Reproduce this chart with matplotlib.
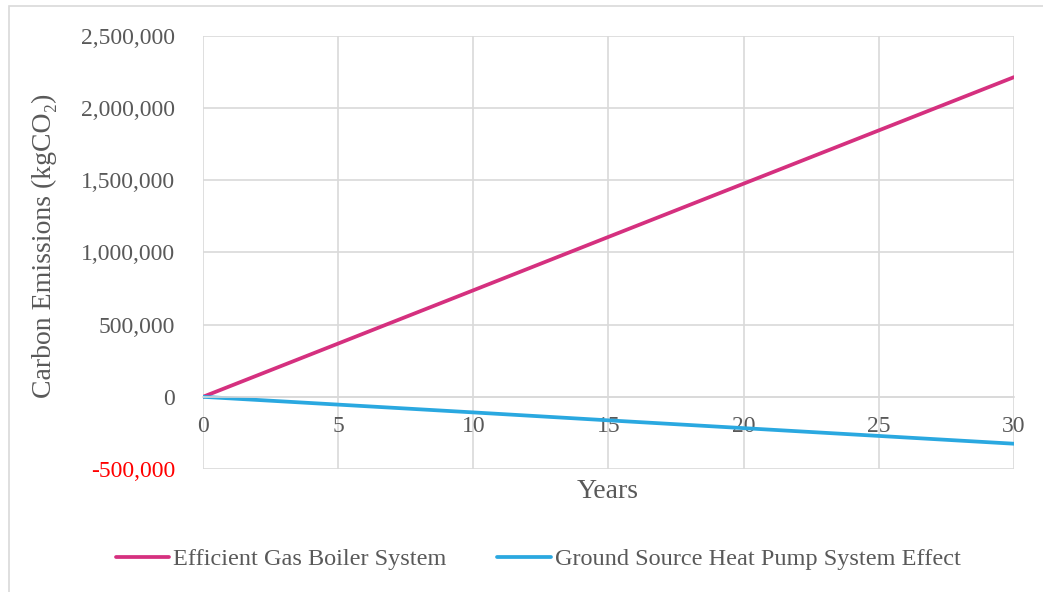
import matplotlib.pyplot as plt
from matplotlib.patches import Rectangle
from matplotlib.ticker import FuncFormatter

# values (every 5 years)
years = [0, 5, 10, 15, 20, 25, 30]
gas_boiler = [0, 369000, 738000, 1108000, 1477000, 1846000, 2215000]
gshp_effect = [0, -54000, -108000, -163000, -217000, -271000, -325000]

labels = ['Efficient Gas Boiler System', 'Ground Source Heat Pump System Effect']
y_ticks = [-500000, 0, 500000, 1000000, 1500000, 2000000, 2500000]
x_ticks = [0, 5, 10, 15, 20, 25, 30]

plt.rcParams['font.family'] = ['Liberation Serif', 'DejaVu Serif']
txt = '#595959'
grid = '#d9d9d9'

fig = plt.figure(figsize=(10.43, 5.92), dpi=100)
ax = fig.add_axes([0.1946, 0.2078, 0.7776, 0.7314])

# outer chart border
fig.patches.append(Rectangle((0.0086, -0.01), 1.0, 0.9999, transform=fig.transFigure,
                             fill=False, edgecolor=grid, linewidth=1.2))

ax.plot(years, gas_boiler, color='#d5307f', linewidth=2.7, label=labels[0], solid_capstyle='round')
ax.plot(years, gshp_effect, color='#2aa8e0', linewidth=2.7, label=labels[1], solid_capstyle='round')

ax.set_xlim(0, 30)
ax.set_ylim(-500000, 2500000)
ax.set_xticks(x_ticks)
ax.set_yticks(y_ticks)
ax.yaxis.set_major_formatter(FuncFormatter(lambda v, p: f'{int(v):,}'))

ax.grid(True, color=grid, linewidth=1.2)
ax.set_axisbelow(True)
for s in ['left', 'right', 'top']:
    ax.spines[s].set_visible(False)
ax.spines['bottom'].set_position(('data', 0))
ax.spines['bottom'].set_color(grid)
ax.spines['bottom'].set_linewidth(1.2)

ax.tick_params(axis='both', length=0, labelsize=17, labelcolor=txt)
ax.tick_params(axis='x', pad=14)
ax.tick_params(axis='y', pad=20)
for lab in ax.get_yticklabels():
    if lab.get_text().startswith('-'):
        lab.set_color('red')

fig.text(0.043, 0.584, 'Carbon Emissions (kgCO\u2082)', fontsize=20, color=txt,
         rotation=90, ha='center', va='center')
fig.text(0.583, 0.170, 'Years', fontsize=20, color=txt, ha='center', va='center')

fig.legend(loc='center', bbox_to_anchor=(0.516, 0.055), ncol=2, frameon=False,
           fontsize=17.5, labelcolor=txt, handlelength=2.2, handletextpad=0.15,
           columnspacing=2.1)

fig.savefig('out.png', dpi=100)
